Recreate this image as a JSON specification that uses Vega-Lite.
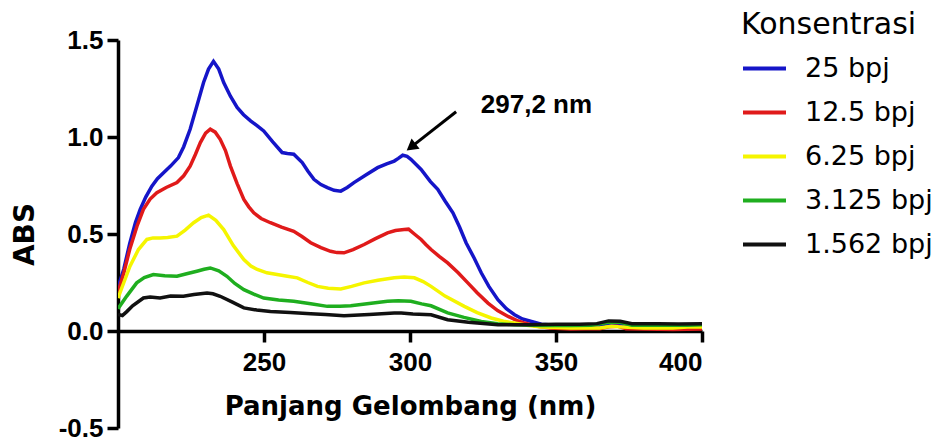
{
  "$schema": "https://vega.github.io/schema/vega-lite/v6.json",
  "autosize": "none",
  "width": 584,
  "height": 388,
  "padding": {"left": 118, "top": 40, "right": 239, "bottom": 18},
  "background": "white",
  "config": {"view": {"stroke": null}},
  "datasets": {
    "spectra": [
      {"k":"25 bpj","x":200,"y":0.225},{"k":"25 bpj","x":202,"y":0.32},{"k":"25 bpj","x":204,"y":0.45},{"k":"25 bpj","x":206,"y":0.56},{"k":"25 bpj","x":207.6,"y":0.627},{"k":"25 bpj","x":209.5,"y":0.69},{"k":"25 bpj","x":211.6,"y":0.747},{"k":"25 bpj","x":213.5,"y":0.785},{"k":"25 bpj","x":215.6,"y":0.816},{"k":"25 bpj","x":218,"y":0.85},{"k":"25 bpj","x":220.7,"y":0.894},{"k":"25 bpj","x":222.5,"y":0.95},{"k":"25 bpj","x":224.7,"y":1.04},{"k":"25 bpj","x":227,"y":1.16},{"k":"25 bpj","x":229.3,"y":1.281},{"k":"25 bpj","x":231,"y":1.35},{"k":"25 bpj","x":232.7,"y":1.39},{"k":"25 bpj","x":234.5,"y":1.35},{"k":"25 bpj","x":236.2,"y":1.281},{"k":"25 bpj","x":238.5,"y":1.21},{"k":"25 bpj","x":240.8,"y":1.152},{"k":"25 bpj","x":243,"y":1.115},{"k":"25 bpj","x":245.4,"y":1.083},{"k":"25 bpj","x":247.5,"y":1.06},{"k":"25 bpj","x":249.9,"y":1.031},{"k":"25 bpj","x":253,"y":0.975},{"k":"25 bpj","x":256.2,"y":0.92},{"k":"25 bpj","x":258,"y":0.915},{"k":"25 bpj","x":260.2,"y":0.911},{"k":"25 bpj","x":263.1,"y":0.868},{"k":"25 bpj","x":265,"y":0.825},{"k":"25 bpj","x":267.1,"y":0.782},{"k":"25 bpj","x":269.5,"y":0.755},{"k":"25 bpj","x":271.7,"y":0.739},{"k":"25 bpj","x":274,"y":0.725},{"k":"25 bpj","x":276.3,"y":0.721},{"k":"25 bpj","x":278.5,"y":0.74},{"k":"25 bpj","x":280.8,"y":0.765},{"k":"25 bpj","x":285,"y":0.805},{"k":"25 bpj","x":288.9,"y":0.842},{"k":"25 bpj","x":292,"y":0.862},{"k":"25 bpj","x":294.6,"y":0.876},{"k":"25 bpj","x":296,"y":0.89},{"k":"25 bpj","x":297.5,"y":0.906},{"k":"25 bpj","x":299,"y":0.9},{"k":"25 bpj","x":300.3,"y":0.885},{"k":"25 bpj","x":303.8,"y":0.833},{"k":"25 bpj","x":307,"y":0.77},{"k":"25 bpj","x":309.5,"y":0.73},{"k":"25 bpj","x":312,"y":0.67},{"k":"25 bpj","x":314.7,"y":0.609},{"k":"25 bpj","x":317,"y":0.535},{"k":"25 bpj","x":319.2,"y":0.455},{"k":"25 bpj","x":322,"y":0.375},{"k":"25 bpj","x":324.4,"y":0.3},{"k":"25 bpj","x":327,"y":0.23},{"k":"25 bpj","x":330.1,"y":0.161},{"k":"25 bpj","x":333,"y":0.115},{"k":"25 bpj","x":335.8,"y":0.084},{"k":"25 bpj","x":338.5,"y":0.062},{"k":"25 bpj","x":341.6,"y":0.049},{"k":"25 bpj","x":345,"y":0.035},{"k":"25 bpj","x":350,"y":0.03},{"k":"25 bpj","x":355,"y":0.028},{"k":"25 bpj","x":360,"y":0.03},{"k":"25 bpj","x":365,"y":0.03},{"k":"25 bpj","x":368,"y":0.04},{"k":"25 bpj","x":372,"y":0.038},{"k":"25 bpj","x":375,"y":0.03},{"k":"25 bpj","x":380,"y":0.028},{"k":"25 bpj","x":385,"y":0.03},{"k":"25 bpj","x":390,"y":0.028},{"k":"25 bpj","x":395,"y":0.03},{"k":"25 bpj","x":400,"y":0.03},

      {"k":"12.5 bpj","x":200,"y":0.2},{"k":"12.5 bpj","x":202,"y":0.3},{"k":"12.5 bpj","x":204,"y":0.42},{"k":"12.5 bpj","x":206.5,"y":0.54},{"k":"12.5 bpj","x":208.7,"y":0.627},{"k":"12.5 bpj","x":211,"y":0.68},{"k":"12.5 bpj","x":213.3,"y":0.713},{"k":"12.5 bpj","x":216.5,"y":0.74},{"k":"12.5 bpj","x":220.2,"y":0.765},{"k":"12.5 bpj","x":222.5,"y":0.8},{"k":"12.5 bpj","x":224.7,"y":0.85},{"k":"12.5 bpj","x":226.5,"y":0.91},{"k":"12.5 bpj","x":228.2,"y":0.971},{"k":"12.5 bpj","x":230,"y":1.02},{"k":"12.5 bpj","x":231.6,"y":1.04},{"k":"12.5 bpj","x":233.3,"y":1.025},{"k":"12.5 bpj","x":235,"y":0.988},{"k":"12.5 bpj","x":236.8,"y":0.93},{"k":"12.5 bpj","x":238.5,"y":0.85},{"k":"12.5 bpj","x":240.8,"y":0.76},{"k":"12.5 bpj","x":243.1,"y":0.678},{"k":"12.5 bpj","x":244.8,"y":0.64},{"k":"12.5 bpj","x":246.5,"y":0.609},{"k":"12.5 bpj","x":249,"y":0.58},{"k":"12.5 bpj","x":252.2,"y":0.558},{"k":"12.5 bpj","x":256,"y":0.535},{"k":"12.5 bpj","x":260.2,"y":0.514},{"k":"12.5 bpj","x":263,"y":0.487},{"k":"12.5 bpj","x":266,"y":0.455},{"k":"12.5 bpj","x":269.5,"y":0.43},{"k":"12.5 bpj","x":272.8,"y":0.411},{"k":"12.5 bpj","x":275,"y":0.404},{"k":"12.5 bpj","x":277.4,"y":0.403},{"k":"12.5 bpj","x":280.5,"y":0.42},{"k":"12.5 bpj","x":284.3,"y":0.446},{"k":"12.5 bpj","x":288,"y":0.475},{"k":"12.5 bpj","x":292.3,"y":0.506},{"k":"12.5 bpj","x":295,"y":0.518},{"k":"12.5 bpj","x":298,"y":0.523},{"k":"12.5 bpj","x":299.5,"y":0.525},{"k":"12.5 bpj","x":301.5,"y":0.5},{"k":"12.5 bpj","x":303.8,"y":0.472},{"k":"12.5 bpj","x":305.5,"y":0.445},{"k":"12.5 bpj","x":307.2,"y":0.42},{"k":"12.5 bpj","x":310,"y":0.385},{"k":"12.5 bpj","x":312.9,"y":0.351},{"k":"12.5 bpj","x":316.5,"y":0.3},{"k":"12.5 bpj","x":319.8,"y":0.248},{"k":"12.5 bpj","x":323,"y":0.197},{"k":"12.5 bpj","x":326.7,"y":0.144},{"k":"12.5 bpj","x":330,"y":0.105},{"k":"12.5 bpj","x":333.6,"y":0.075},{"k":"12.5 bpj","x":336.5,"y":0.055},{"k":"12.5 bpj","x":339.3,"y":0.041},{"k":"12.5 bpj","x":343,"y":0.025},{"k":"12.5 bpj","x":348,"y":0.015},{"k":"12.5 bpj","x":355,"y":0.01},{"k":"12.5 bpj","x":360,"y":0.012},{"k":"12.5 bpj","x":365,"y":0.012},{"k":"12.5 bpj","x":368,"y":0.022},{"k":"12.5 bpj","x":371,"y":0.025},{"k":"12.5 bpj","x":374,"y":0.012},{"k":"12.5 bpj","x":380,"y":0.01},{"k":"12.5 bpj","x":390,"y":0.008},{"k":"12.5 bpj","x":400,"y":0.01},

      {"k":"6.25 bpj","x":200,"y":0.17},{"k":"6.25 bpj","x":202,"y":0.25},{"k":"6.25 bpj","x":204.1,"y":0.334},{"k":"6.25 bpj","x":207,"y":0.42},{"k":"6.25 bpj","x":209.9,"y":0.472},{"k":"6.25 bpj","x":212,"y":0.48},{"k":"6.25 bpj","x":214.4,"y":0.48},{"k":"6.25 bpj","x":217,"y":0.482},{"k":"6.25 bpj","x":220.2,"y":0.489},{"k":"6.25 bpj","x":223,"y":0.52},{"k":"6.25 bpj","x":225.9,"y":0.558},{"k":"6.25 bpj","x":228.5,"y":0.585},{"k":"6.25 bpj","x":231,"y":0.597},{"k":"6.25 bpj","x":233.5,"y":0.57},{"k":"6.25 bpj","x":236.2,"y":0.523},{"k":"6.25 bpj","x":239.5,"y":0.44},{"k":"6.25 bpj","x":243.1,"y":0.368},{"k":"6.25 bpj","x":245.5,"y":0.335},{"k":"6.25 bpj","x":247.7,"y":0.317},{"k":"6.25 bpj","x":251,"y":0.3},{"k":"6.25 bpj","x":254.5,"y":0.291},{"k":"6.25 bpj","x":258,"y":0.282},{"k":"6.25 bpj","x":261.4,"y":0.274},{"k":"6.25 bpj","x":265,"y":0.25},{"k":"6.25 bpj","x":268.3,"y":0.23},{"k":"6.25 bpj","x":272,"y":0.22},{"k":"6.25 bpj","x":276.3,"y":0.217},{"k":"6.25 bpj","x":280,"y":0.23},{"k":"6.25 bpj","x":284.3,"y":0.248},{"k":"6.25 bpj","x":289,"y":0.262},{"k":"6.25 bpj","x":294.6,"y":0.274},{"k":"6.25 bpj","x":298,"y":0.278},{"k":"6.25 bpj","x":301.5,"y":0.274},{"k":"6.25 bpj","x":304.5,"y":0.255},{"k":"6.25 bpj","x":307.2,"y":0.23},{"k":"6.25 bpj","x":312,"y":0.18},{"k":"6.25 bpj","x":318.6,"y":0.127},{"k":"6.25 bpj","x":323,"y":0.095},{"k":"6.25 bpj","x":327.8,"y":0.067},{"k":"6.25 bpj","x":332,"y":0.05},{"k":"6.25 bpj","x":335.8,"y":0.041},{"k":"6.25 bpj","x":340,"y":0.03},{"k":"6.25 bpj","x":345,"y":0.02},{"k":"6.25 bpj","x":355,"y":0.015},{"k":"6.25 bpj","x":365,"y":0.015},{"k":"6.25 bpj","x":369,"y":0.025},{"k":"6.25 bpj","x":373,"y":0.02},{"k":"6.25 bpj","x":380,"y":0.015},{"k":"6.25 bpj","x":390,"y":0.015},{"k":"6.25 bpj","x":395,"y":0.02},{"k":"6.25 bpj","x":400,"y":0.02},

      {"k":"3.125 bpj","x":200,"y":0.115},{"k":"3.125 bpj","x":203,"y":0.18},{"k":"3.125 bpj","x":206.4,"y":0.248},{"k":"3.125 bpj","x":209,"y":0.275},{"k":"3.125 bpj","x":212.1,"y":0.291},{"k":"3.125 bpj","x":216,"y":0.285},{"k":"3.125 bpj","x":220.2,"y":0.282},{"k":"3.125 bpj","x":223.5,"y":0.295},{"k":"3.125 bpj","x":227,"y":0.308},{"k":"3.125 bpj","x":229.5,"y":0.318},{"k":"3.125 bpj","x":231.6,"y":0.325},{"k":"3.125 bpj","x":234.5,"y":0.31},{"k":"3.125 bpj","x":237.3,"y":0.282},{"k":"3.125 bpj","x":240,"y":0.245},{"k":"3.125 bpj","x":243.1,"y":0.213},{"k":"3.125 bpj","x":246.5,"y":0.19},{"k":"3.125 bpj","x":249.9,"y":0.17},{"k":"3.125 bpj","x":255,"y":0.16},{"k":"3.125 bpj","x":260.2,"y":0.153},{"k":"3.125 bpj","x":266,"y":0.14},{"k":"3.125 bpj","x":271.7,"y":0.127},{"k":"3.125 bpj","x":276,"y":0.127},{"k":"3.125 bpj","x":279.7,"y":0.13},{"k":"3.125 bpj","x":286,"y":0.142},{"k":"3.125 bpj","x":292.3,"y":0.153},{"k":"3.125 bpj","x":296,"y":0.156},{"k":"3.125 bpj","x":300.3,"y":0.153},{"k":"3.125 bpj","x":304,"y":0.14},{"k":"3.125 bpj","x":307.2,"y":0.13},{"k":"3.125 bpj","x":312.9,"y":0.093},{"k":"3.125 bpj","x":318.5,"y":0.07},{"k":"3.125 bpj","x":324.4,"y":0.049},{"k":"3.125 bpj","x":330,"y":0.038},{"k":"3.125 bpj","x":335.8,"y":0.032},{"k":"3.125 bpj","x":345,"y":0.028},{"k":"3.125 bpj","x":355,"y":0.028},{"k":"3.125 bpj","x":362,"y":0.03},{"k":"3.125 bpj","x":368,"y":0.045},{"k":"3.125 bpj","x":372,"y":0.045},{"k":"3.125 bpj","x":376,"y":0.03},{"k":"3.125 bpj","x":385,"y":0.03},{"k":"3.125 bpj","x":395,"y":0.03},{"k":"3.125 bpj","x":400,"y":0.032},

      {"k":"1.562 bpj","x":200,"y":0.085},{"k":"1.562 bpj","x":201.5,"y":0.08},{"k":"1.562 bpj","x":203,"y":0.1},{"k":"1.562 bpj","x":205,"y":0.13},{"k":"1.562 bpj","x":208.7,"y":0.17},{"k":"1.562 bpj","x":211,"y":0.175},{"k":"1.562 bpj","x":214.4,"y":0.17},{"k":"1.562 bpj","x":218,"y":0.18},{"k":"1.562 bpj","x":222.4,"y":0.179},{"k":"1.562 bpj","x":226,"y":0.188},{"k":"1.562 bpj","x":230.5,"y":0.196},{"k":"1.562 bpj","x":232.5,"y":0.192},{"k":"1.562 bpj","x":235,"y":0.179},{"k":"1.562 bpj","x":239,"y":0.15},{"k":"1.562 bpj","x":243.1,"y":0.119},{"k":"1.562 bpj","x":247.5,"y":0.108},{"k":"1.562 bpj","x":252.2,"y":0.101},{"k":"1.562 bpj","x":259,"y":0.095},{"k":"1.562 bpj","x":266,"y":0.089},{"k":"1.562 bpj","x":271,"y":0.085},{"k":"1.562 bpj","x":277.4,"y":0.079},{"k":"1.562 bpj","x":286,"y":0.085},{"k":"1.562 bpj","x":294.6,"y":0.093},{"k":"1.562 bpj","x":297,"y":0.093},{"k":"1.562 bpj","x":301,"y":0.088},{"k":"1.562 bpj","x":307.2,"y":0.084},{"k":"1.562 bpj","x":312.9,"y":0.058},{"k":"1.562 bpj","x":320,"y":0.045},{"k":"1.562 bpj","x":330.1,"y":0.032},{"k":"1.562 bpj","x":340,"y":0.032},{"k":"1.562 bpj","x":350,"y":0.035},{"k":"1.562 bpj","x":358,"y":0.035},{"k":"1.562 bpj","x":364,"y":0.038},{"k":"1.562 bpj","x":368,"y":0.052},{"k":"1.562 bpj","x":372,"y":0.05},{"k":"1.562 bpj","x":376,"y":0.038},{"k":"1.562 bpj","x":385,"y":0.037},{"k":"1.562 bpj","x":392,"y":0.036},{"k":"1.562 bpj","x":400,"y":0.038}
    ],
    "arrow": [{"x": 315.8, "y": 1.13, "x2": 300.9, "y2": 0.954}],
    "label": [{"x": 343.3, "y": 1.165, "text": "297,2 nm"}]
  },
  "layer": [
    {
      "data": {"name": "spectra"},
      "mark": {"type": "line", "strokeWidth": 3.5, "clip": true},
      "encoding": {
        "x": {
          "field": "x", "type": "quantitative",
          "scale": {"domain": [200, 400], "nice": false, "zero": false},
          "axis": {
            "values": [250, 300, 350, 400],
            "offset": -97,
            "grid": false,
            "domainColor": "black", "domainWidth": 3.5,
            "tickColor": "black", "tickWidth": 3.5, "tickSize": 11,
            "labelFont": "Liberation Sans", "labelFontWeight": "bold", "labelFontSize": 26,
            "labelColor": "black", "labelPadding": 7,
            "title": "Panjang Gelombang (nm)",
            "titleFont": "DejaVu Sans", "titleFontWeight": "bold", "titleFontSize": 26,
            "titleColor": "black", "titlePadding": 18
          }
        },
        "y": {
          "field": "y", "type": "quantitative",
          "scale": {"domain": [-0.5, 1.5], "nice": false, "zero": false},
          "axis": {
            "values": [-0.5, 0, 0.5, 1, 1.5],
            "labelExpr": "datum.value < 0 ? '-' + format(-datum.value, '.1f') : format(datum.value, '.1f')",
            "grid": false,
            "domainColor": "black", "domainWidth": 3.5,
            "tickColor": "black", "tickWidth": 3.5, "tickSize": 11,
            "labelFont": "Liberation Sans", "labelFontWeight": "bold", "labelFontSize": 26,
            "labelColor": "black", "labelPadding": 4,
            "title": "ABS",
            "titleFont": "DejaVu Sans", "titleFontWeight": "bold", "titleFontSize": 28,
            "titleColor": "black", "titlePadding": 19
          }
        },
        "color": {
          "field": "k", "type": "nominal",
          "scale": {
            "domain": ["25 bpj", "12.5 bpj", "6.25 bpj", "3.125 bpj", "1.562 bpj"],
            "range": ["#1515c8", "#e01a1a", "#f5f500", "#1fae1f", "#111111"]
          },
          "sort": null,
          "legend": {
            "title": "Konsentrasi",
            "orient": "none",
            "legendX": 623,
            "legendY": -30,
            "padding": 0,
            "titleFont": "DejaVu Sans", "titleFontSize": 30, "titleFontWeight": "normal",
            "titleColor": "black", "titlePadding": 5,
            "labelFont": "DejaVu Sans", "labelFontSize": 27, "labelColor": "black",
            "labelOffset": 17,
            "symbolType": "stroke", "symbolSize": 1849, "symbolStrokeWidth": 4,
            "rowPadding": 7
          }
        }
      }
    },
    {
      "data": {"name": "arrow"},
      "mark": {"type": "rule", "color": "black", "strokeWidth": 3},
      "encoding": {
        "x": {"field": "x", "type": "quantitative"},
        "y": {"field": "y", "type": "quantitative"},
        "x2": {"field": "x2"},
        "y2": {"field": "y2"}
      }
    },
    {
      "data": {"name": "arrow"},
      "mark": {"type": "point", "shape": "triangle", "filled": true, "color": "black", "size": 170, "angle": 232, "opacity": 1},
      "encoding": {
        "x": {"field": "x2", "type": "quantitative"},
        "y": {"field": "y2", "type": "quantitative"}
      }
    },
    {
      "data": {"name": "label"},
      "mark": {"type": "text", "font": "Liberation Sans", "fontWeight": "bold", "fontSize": 26, "color": "black", "align": "center", "baseline": "middle"},
      "encoding": {
        "x": {"field": "x", "type": "quantitative"},
        "y": {"field": "y", "type": "quantitative"},
        "text": {"field": "text"}
      }
    }
  ]
}
